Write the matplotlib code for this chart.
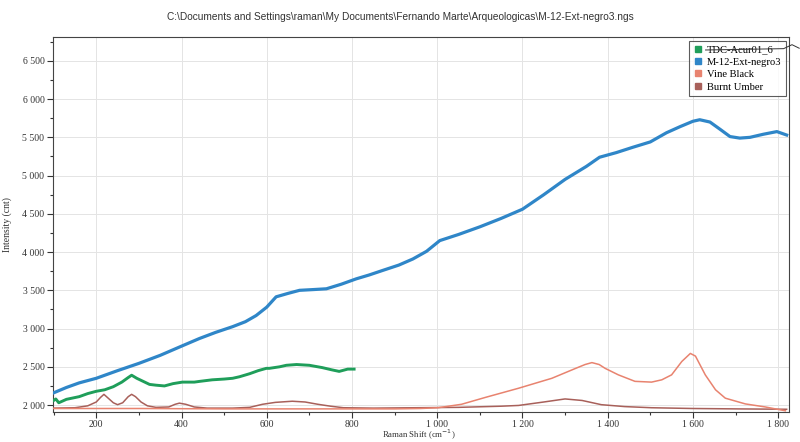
import matplotlib
matplotlib.use("Agg")
import matplotlib.pyplot as plt
from matplotlib.ticker import MultipleLocator, FuncFormatter
from matplotlib.lines import Line2D

# Raman shift (cm-1) and intensity (cnt) for each spectrum
tdc_x = [100, 105, 112, 120, 130, 143, 160, 180, 200, 220, 240, 260, 275, 283, 295, 310,
         325, 340, 360, 380, 402, 430, 443, 472, 500, 520, 536, 560, 580, 599, 606, 630,
         646, 670, 700, 730, 753, 770, 790, 805]
tdc_y = [2060, 2080, 2030, 2050, 2075, 2090, 2110, 2150, 2180, 2200, 2240, 2300, 2360, 2390, 2350, 2310,
         2270, 2260, 2250, 2280, 2300, 2300, 2310, 2330, 2340, 2350, 2370, 2410, 2450, 2480, 2480, 2500,
         2520, 2530, 2520, 2490, 2460, 2440, 2470, 2470]

m12_x = [100, 130, 160, 200, 250, 300, 350, 400, 442, 480, 520, 550, 575, 600, 622, 650,
         677, 710, 740, 775, 810, 840, 872, 910, 943, 975, 1006, 1050, 1100, 1150, 1200, 1250,
         1300, 1350, 1381, 1420, 1459, 1500, 1538, 1570, 1600, 1616, 1640, 1665, 1687, 1710, 1734,
         1765, 1797, 1820]
m12_y = [2160, 2230, 2290, 2350, 2450, 2545, 2650, 2770, 2870, 2950, 3025, 3090, 3170, 3280, 3415, 3460,
         3500, 3510, 3520, 3580, 3650, 3700, 3760, 3830, 3910, 4010, 4150, 4230, 4330, 4440, 4560, 4750,
         4950, 5120, 5240, 5300, 5370, 5440, 5560, 5640, 5710, 5730, 5700, 5600, 5510, 5490, 5500,
         5540, 5575, 5530]

vine_x = [100, 300, 500, 700, 900, 960, 1002, 1057, 1113, 1191, 1269, 1325, 1347, 1363, 1380,
          1394, 1425, 1464, 1503, 1527, 1550, 1574, 1594, 1606, 1629, 1653, 1676, 1723, 1770, 1817]
vine_y = [1955, 1955, 1950, 1950, 1950, 1955, 1965, 2010, 2100, 2220, 2350, 2480, 2530, 2555, 2530,
          2480, 2395, 2310, 2300, 2330, 2395, 2570, 2675, 2640, 2395, 2200, 2090, 2015, 1975, 1925]

umber_x = [100, 150, 180, 200, 210, 218, 228, 240, 250, 262, 275, 283, 292, 305, 320, 340,
           370, 385, 395, 410, 430, 460, 520, 560, 590, 620, 660, 690, 720, 750, 780, 850,
           950, 1050, 1150, 1191, 1250, 1300, 1340, 1385, 1440, 1503, 1600, 1700, 1820]
umber_y = [1960, 1965, 1990, 2040, 2100, 2140, 2090, 2030, 2005, 2030, 2110, 2140, 2110, 2040, 1990, 1970,
           1975, 2010, 2025, 2010, 1975, 1960, 1960, 1970, 2010, 2035, 2050, 2040, 2010, 1985, 1965, 1960,
           1965, 1970, 1985, 1995, 2040, 2080, 2060, 2005, 1980, 1965, 1955, 1950, 1945]

series_names = ["TDC-Acur01_6", "M-12-Ext-negro3", "Vine Black", "Burnt Umber"]
series_colors = ["#1f9e5a", "#2f86c8", "#e8836f", "#a8605a"]

title = r"C:\Documents and Settings\raman\My Documents\Fernando Marte\Arqueologicas\M-12-Ext-negro3.ngs"

fig = plt.figure(figsize=(8.0, 4.42), dpi=100)
ax = fig.add_axes([0.066, 0.068, 0.920, 0.848])

ax.plot(umber_x, umber_y, color=series_colors[3], lw=1.1, zorder=3)
ax.plot(vine_x, vine_y, color=series_colors[2], lw=1.1, zorder=3)
ax.plot(m12_x, m12_y, color=series_colors[1], lw=2.3, zorder=4)
ax.plot(tdc_x, tdc_y, color=series_colors[0], lw=2.1, zorder=4)

ax.set_xlim(98, 1825)
ax.set_ylim(1910, 6810)

ax.xaxis.set_major_locator(MultipleLocator(200))
ax.xaxis.set_minor_locator(MultipleLocator(100))
ax.yaxis.set_major_locator(MultipleLocator(500))
ax.yaxis.set_minor_locator(MultipleLocator(250))

def spaced(v, pos):
    s = f"{int(round(v)):,}"
    return s.replace(",", " ")

ax.xaxis.set_major_formatter(FuncFormatter(spaced))
ax.yaxis.set_major_formatter(FuncFormatter(spaced))

ax.tick_params(axis="both", which="major", direction="out", length=4, width=0.8,
               labelsize=7, pad=2, colors="#333333")
ax.tick_params(axis="x", which="major", pad=1.5)
ax.tick_params(axis="both", which="minor", direction="out", length=2.5, width=0.8, colors="#333333")
for lab in ax.get_xticklabels() + ax.get_yticklabels():
    lab.set_fontfamily("Liberation Serif")

ax.grid(True, which="major", color="#e4e4e4", lw=0.7, zorder=0)
for sp in ax.spines.values():
    sp.set_color("#444444")
    sp.set_linewidth(0.8)

ax.set_xlabel(r"Raman Shift (cm$^{-1}$)", fontsize=6.3, family="Liberation Serif", color="#333333")
ax.set_ylabel("Intensity (cnt)", fontsize=7, family="Liberation Serif", color="#333333")
ax.xaxis.set_label_coords(0.497, -0.043)
ax.yaxis.set_label_coords(-0.056, 0.5)

fig.text(0.5, 0.962, title, ha="center", va="center", fontsize=7.3,
         family="Liberation Sans", color="#333333")

handles = [Line2D([], [], ls="none", marker="s", markersize=4.5, color=c) for c in series_colors]
leg = ax.legend(handles, series_names, loc="upper right", bbox_to_anchor=(0.996, 0.99),
                prop={"family": "Liberation Serif", "size": 7.6}, frameon=True, fancybox=False,
                borderpad=0.4, handlelength=0.8, handletextpad=0.5, labelspacing=0.28,
                borderaxespad=0.0)
leg.get_frame().set_edgecolor("#333333")
leg.get_frame().set_linewidth(0.8)

# pen stroke crossing out the first legend entry
fig.canvas.draw()
bb = leg.get_texts()[0].get_window_extent()
inv = fig.transFigure.inverted()
(x0, y0), (x1, y1) = inv.transform([(bb.x0, bb.y0), (bb.x1, bb.y1)])
ym = (y0 + y1) / 2
fig.add_artist(Line2D([x0 - 0.002, x1 + 0.012, 0.99, 0.999], [ym, ym + 0.003, ym + 0.012, ym + 0.004],
                      color="#333333", lw=0.7, transform=fig.transFigure))

fig.savefig("out.png", dpi=100)
